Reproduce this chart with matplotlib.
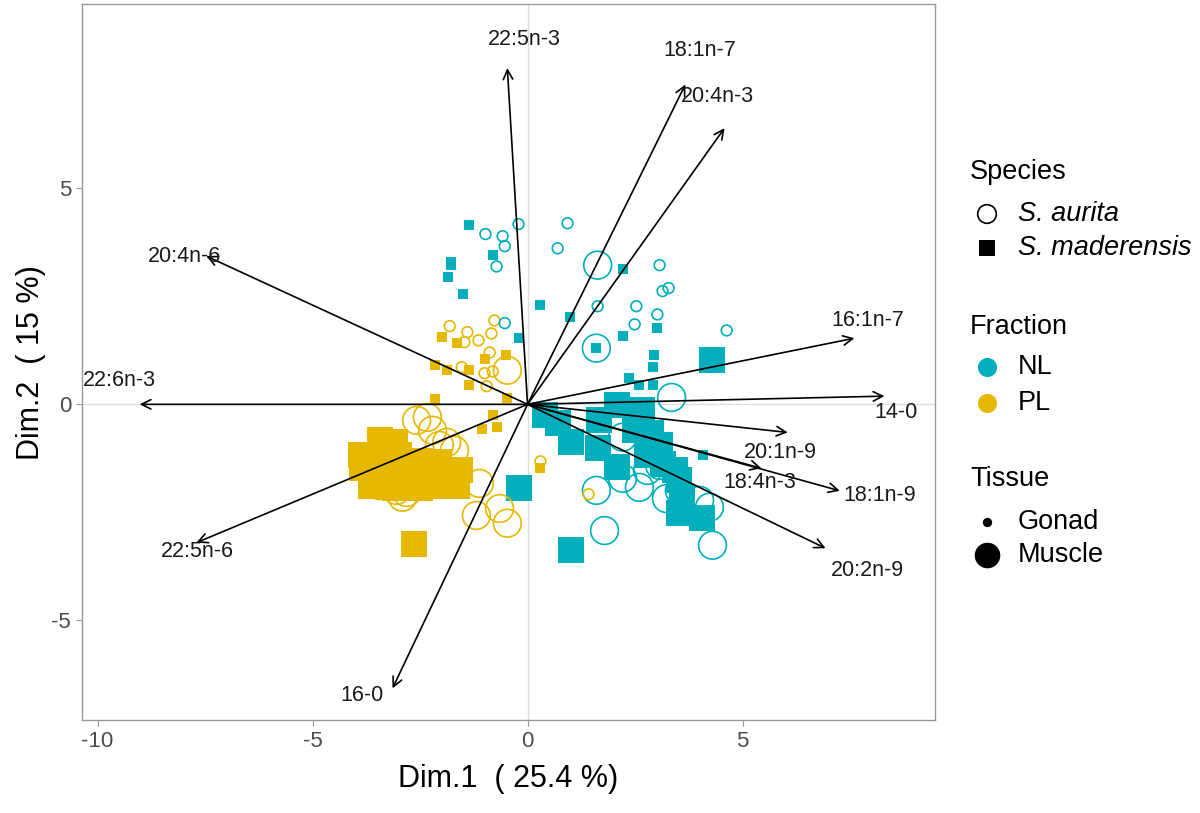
import numpy as np
import matplotlib.pyplot as plt

plt.rcParams['font.family'] = ['Liberation Sans', 'DejaVu Sans']
plt.rcParams['axes.unicode_minus'] = False

# individuals (Dim.1, Dim.2) per group: fraction / species / tissue
nl_mad_gonad_x = [-1.35, -0.81, -1.79, -1.84, -1.51, 0.30, 0.98, 2.23, 2.23, 3.02, 2.95, 2.91,
                  1.60, 2.35, 2.60, 2.91, 4.07, -1.77, -0.21]
nl_mad_gonad_y = [4.14, 3.45, 3.22, 2.94, 2.55, 2.29, 2.01, 3.13, 1.57, 1.76, 1.13, 0.86,
                  1.30, 0.60, 0.44, 0.44, -1.18, 3.29, 1.53]

nl_aur_gonad_x = [-0.98, -0.58, -0.53, -0.72, -0.21, 0.93, 0.70, 3.07, 3.14, 3.28, 2.53, 1.63,
                  3.02, 2.49, 4.63, -0.53]
nl_aur_gonad_y = [3.94, 3.89, 3.66, 3.19, 4.17, 4.19, 3.61, 3.22, 2.62, 2.69, 2.27, 2.27,
                  2.08, 1.85, 1.71, 1.88]

nl_aur_muscle_x = [1.63, 1.60, 3.35, 1.60, 1.79, 4.30, 2.21, 2.60, 3.23, 2.79, 4.23, 4.00,
                   2.21, 3.07, 3.53]
nl_aur_muscle_y = [3.22, 1.30, 0.16, -1.99, -2.92, -3.26, -1.71, -1.92, -2.18, -1.53, -2.38, -2.22,
                   -0.76, -1.41, -1.99]

nl_mad_muscle_x = [4.30, 2.07, 2.67, 0.70, 1.02, 1.63, 2.09, 2.88, 2.77, 3.14, 3.53, 3.60,
                   3.53, 4.05, 1.02, -0.19, 2.49, 1.67, 3.07, 3.42, 0.40]
nl_mad_muscle_y = [1.02, -0.02, -0.14, -0.44, -0.88, -1.00, -1.46, -0.67, -1.18, -1.37, -1.76, -2.15,
                   -2.52, -2.64, -3.38, -1.94, -0.60, -0.37, -0.95, -1.53, -0.25]

pl_mad_gonad_x = [-1.98, -1.63, -0.49, -1.00, -2.16, -1.88, -1.37, -1.35, -2.16, -0.47, -0.81,
                  -1.07, -0.72, 0.30]
pl_mad_gonad_y = [1.55, 1.41, 1.13, 1.06, 0.90, 0.79, 0.79, 0.44, 0.12, 0.14, -0.25,
                  -0.56, -0.53, -1.48]

pl_aur_gonad_x = [-1.81, -0.77, -1.40, -0.84, -1.47, -1.14, -0.88, -1.00, -0.81, -0.95, -1.53,
                  0.30, 1.42]
pl_aur_gonad_y = [1.81, 1.94, 1.67, 1.64, 1.44, 1.48, 1.20, 0.72, 0.76, 0.42, 0.86,
                  -1.32, -2.08]

pl_aur_muscle_x = [-0.47, -2.58, -2.33, -2.21, -1.88, -3.05, -2.81, -2.91, -3.44, -1.12, -1.19,
                   -0.65, -0.47, -1.70, -2.05]
pl_aur_muscle_y = [0.79, -0.37, -0.30, -0.60, -0.88, -1.99, -2.04, -2.15, -1.88, -1.83, -2.57,
                   -2.41, -2.75, -1.06, -0.95]

pl_mad_muscle_x = [-2.63, -3.44, -3.09, -3.88, -3.86, -3.44, -2.98, -2.51, -2.05, -3.33, -2.86,
                   -2.40, -1.93, -3.09, -1.58, -1.63, -2.05, -3.63, -2.51]
pl_mad_muscle_y = [-3.22, -0.83, -0.88, -1.18, -1.48, -1.25, -1.18, -1.30, -1.34, -1.64, -1.71,
                   -1.71, -1.64, -1.94, -1.53, -1.88, -1.88, -1.88, -1.94]

# variables (arrow tips) and label positions
var_names = ['22:5n-3', '18:1n-7', '20:4n-3', '20:4n-6', '16:1n-7', '22:6n-3', '14-0',
             '20:1n-9', '18:4n-3', '18:1n-9', '20:2n-9', '22:5n-6', '16-0']
var_x = [-0.47, 3.67, 4.58, -7.47, 7.60, -9.02, 8.30, 6.05, 5.44, 7.26, 6.93, -7.70, -3.14]
var_y = [7.78, 7.40, 6.39, 3.43, 1.53, 0.00, 0.19, -0.65, -1.48, -2.00, -3.33, -3.20, -6.57]
lab_x = [-0.07, 4.00, 4.42, -7.98, 7.91, -9.49, 8.57, 5.88, 5.40, 8.19, 7.91, -7.67, -3.84]
lab_y = [8.43, 8.19, 7.13, 3.43, 1.94, 0.56, -0.19, -1.11, -1.81, -2.11, -3.84, -3.40, -6.74]

teal = '#00AFBB'
gold = '#E7B800'

fig = plt.figure(figsize=(12, 8.13), dpi=100)
ax = fig.add_axes([0.068, 0.114, 0.711, 0.881])

ax.axhline(0, color='#dddddd', lw=0.9, zorder=0)
ax.axvline(0, color='#dddddd', lw=0.9, zorder=0)

s_sq_small, s_sq_big = 42, 350
s_ci_small, s_ci_big = 60, 400

ax.scatter(pl_mad_muscle_x, pl_mad_muscle_y, marker='s', s=s_sq_big, color=gold, lw=0, zorder=2)
ax.scatter(nl_mad_muscle_x, nl_mad_muscle_y, marker='s', s=s_sq_big, color=teal, lw=0, zorder=2)
ax.scatter(pl_aur_muscle_x, pl_aur_muscle_y, marker='o', s=s_ci_big, facecolors='none',
           edgecolors=gold, lw=1.2, zorder=3)
ax.scatter(nl_aur_muscle_x, nl_aur_muscle_y, marker='o', s=s_ci_big, facecolors='none',
           edgecolors=teal, lw=1.2, zorder=3)
ax.scatter(pl_mad_gonad_x, pl_mad_gonad_y, marker='s', s=s_sq_small, color=gold, lw=0, zorder=3)
ax.scatter(nl_mad_gonad_x, nl_mad_gonad_y, marker='s', s=s_sq_small, color=teal, lw=0, zorder=3)
ax.scatter(pl_aur_gonad_x, pl_aur_gonad_y, marker='o', s=s_ci_small, facecolors='none',
           edgecolors=gold, lw=1.2, zorder=3)
ax.scatter(nl_aur_gonad_x, nl_aur_gonad_y, marker='o', s=s_ci_small, facecolors='none',
           edgecolors=teal, lw=1.2, zorder=3)

for name, x, y, lx, ly in zip(var_names, var_x, var_y, lab_x, lab_y):
    ax.annotate('', xy=(x, y), xytext=(0, 0),
                arrowprops=dict(arrowstyle='->', color='black', lw=1.2,
                                shrinkA=0, shrinkB=0, mutation_scale=17), zorder=4)
    ax.text(lx, ly, name, fontsize=15.5, ha='center', va='center', color='#1a1a1a', zorder=5)

ax.set_xlim(-10.37, 9.47)
ax.set_ylim(-7.31, 9.26)
ax.set_xticks([-10, -5, 0, 5])
ax.set_yticks([-5, 0, 5])
ax.tick_params(colors='#4d4d4d', labelsize=16, length=4, color='#999999')
for sp in ax.spines.values():
    sp.set_color('#999999')
    sp.set_linewidth(1.0)
ax.set_xlabel('Dim.1  ( 25.4 %)', fontsize=22, labelpad=9)
ax.set_ylabel('Dim.2  ( 15 %)', fontsize=22, labelpad=4)

# legend panel
lg = fig.add_axes([0.79, 0, 0.21, 1])
lg.set_xlim(948, 1200)
lg.set_ylim(813, 0)
lg.axis('off')
tx = 1018
fs = 19.5
lg.text(970, 172, 'Species', fontsize=fs, va='center')
lg.scatter([987], [214], marker='o', s=180, facecolors='none', edgecolors='black', lw=1.2)
lg.text(tx, 214, 'S. aurita', fontsize=fs, va='center', style='italic')
lg.scatter([987], [248], marker='s', s=130, color='black', lw=0)
lg.text(tx, 248, 'S. maderensis', fontsize=fs, va='center', style='italic')
lg.text(970, 327, 'Fraction', fontsize=fs, va='center')
lg.scatter([987], [367], marker='o', s=190, color=teal, lw=0)
lg.text(tx, 367, 'NL', fontsize=fs, va='center')
lg.scatter([987], [403], marker='o', s=190, color=gold, lw=0)
lg.text(tx, 403, 'PL', fontsize=fs, va='center')
lg.text(970, 479, 'Tissue', fontsize=fs, va='center')
lg.scatter([987], [522], marker='o', s=45, color='black', lw=0)
lg.text(tx, 522, 'Gonad', fontsize=fs, va='center')
lg.scatter([987], [555], marker='o', s=340, color='black', lw=0)
lg.text(tx, 555, 'Muscle', fontsize=fs, va='center')

fig.savefig('out.png', dpi=100)
